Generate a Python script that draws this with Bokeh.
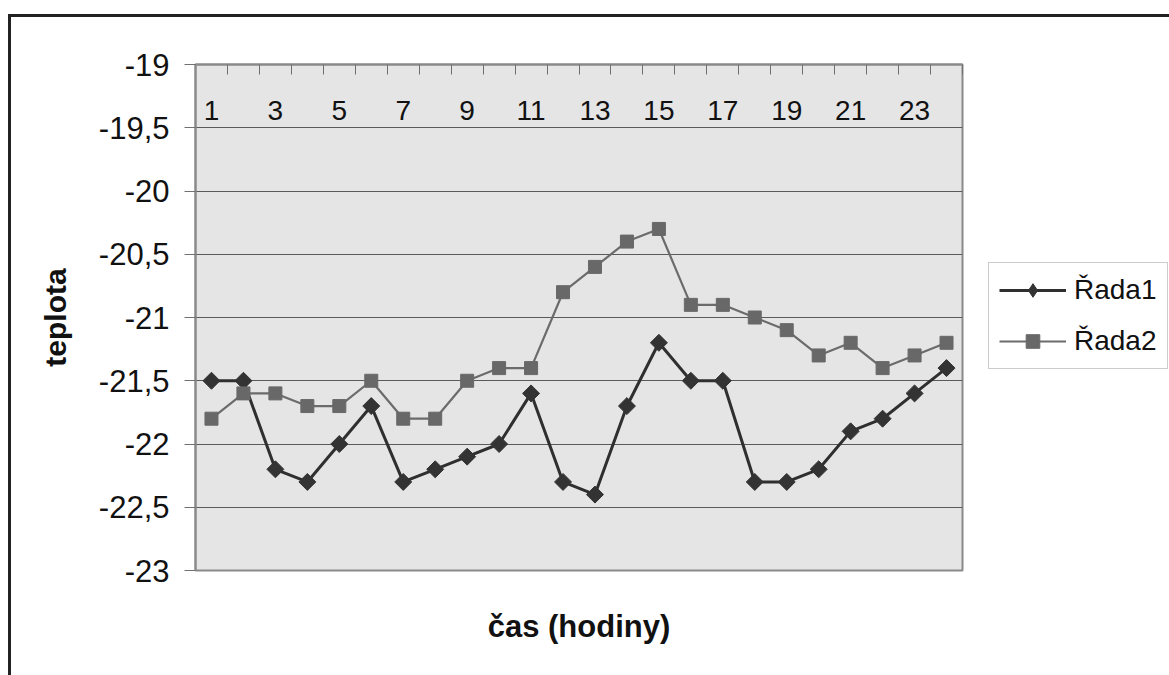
import math
from bokeh.plotting import figure
from bokeh.layouts import row
from bokeh.models import (Range1d, FixedTicker, LinearAxis, CustomJSTickFormatter,
                          Legend, LegendItem, ColumnDataSource, InlineStyleSheet)
from bokeh.core.properties import value
from bokeh.embed import file_html
from bokeh.resources import INLINE

# ---- data ----
hours = list(range(1, 25))
rada1 = [-21.5, -21.5, -22.2, -22.3, -22.0, -21.7, -22.3, -22.2, -22.1, -22.0, -21.6, -22.3,
         -22.4, -21.7, -21.2, -21.5, -21.5, -22.3, -22.3, -22.2, -21.9, -21.8, -21.6, -21.4]
rada2 = [-21.8, -21.6, -21.6, -21.7, -21.7, -21.5, -21.8, -21.8, -21.5, -21.4, -21.4, -20.8,
         -20.6, -20.4, -20.3, -20.9, -20.9, -21.0, -21.1, -21.3, -21.2, -21.4, -21.3, -21.2]
x_label_hours = hours[::2]
x_tick_labels = [str(h) for h in x_label_hours]
y_ticks = [-23, -22.5, -22, -21.5, -21, -20.5, -20, -19.5, -19]
series_names = ["Řada1", "Řada2"]
y_title = "teplota"
x_title = "čas (hodiny)"

FONT = "Liberation Sans"
C1 = "#333333"
C2 = "#686868"
L1 = "#2f2f2f"
L2 = "#6b6b6b"

p = figure(width=975, height=675, output_backend="svg", toolbar_location=None,
           x_range=Range1d(0.5, 24.5), y_range=Range1d(-23, -19),
           min_border_left=195, min_border_right=13, min_border_top=64, min_border_bottom=105,
           background_fill_color="#e5e5e5", border_fill_color="white")

p.outline_line_color = "#8a8a8a"
p.outline_line_width = 2

# y axis
ya = p.yaxis[0]
ya.ticker = FixedTicker(ticks=y_ticks)
ya.formatter = CustomJSTickFormatter(code="return tick.toString().replace('.', ',');")
ya.major_tick_out = 11
ya.major_tick_in = 0
ya.minor_tick_line_color = None
ya.major_tick_line_color = "#707070"
ya.axis_line_color = "#8a8a8a"
ya.axis_line_width = 2
ya.major_label_text_font = FONT
ya.major_label_text_font_size = "31px"
ya.major_label_text_color = "#111111"
ya.major_label_standoff = 15
ya.axis_label = y_title
ya.axis_label_text_font = FONT
ya.axis_label_text_font_size = "30px"
ya.axis_label_text_font_style = "bold"
ya.axis_label_text_color = "#111111"
ya.axis_label_standoff = 24

# bottom axis only carries the title
xa = p.xaxis[0]
xa.ticker = FixedTicker(ticks=[])
xa.axis_line_color = None
xa.major_tick_line_color = None
xa.minor_tick_line_color = None
xa.major_label_text_color = None
xa.major_label_standoff = 0
xa.axis_label = x_title
xa.axis_label_text_font = FONT
xa.axis_label_text_font_size = "31px"
xa.axis_label_text_font_style = "bold"
xa.axis_label_text_color = "#111111"
xa.axis_label_standoff = 38

# top axis with category boundary ticks
boundaries = [h - 0.5 for h in hours] + [hours[-1] + 0.5]
top = LinearAxis(ticker=FixedTicker(ticks=boundaries), major_tick_in=10, major_tick_out=0,
                 minor_tick_line_color=None, major_tick_line_color="#707070",
                 axis_line_color="#8a8a8a", axis_line_width=2,
                 major_label_text_color=None, major_label_text_font_size="1px",
                 major_label_standoff=0)
p.add_layout(top, "above")

# grid
p.xgrid.grid_line_color = None
p.ygrid.ticker = FixedTicker(ticks=y_ticks)
p.ygrid.grid_line_color = "#5a5a5a"
p.ygrid.grid_line_width = 1.2

# category labels inside the plot near the top
p.text(x=x_label_hours, y=[-19.36] * len(x_label_hours), text=x_tick_labels,
       text_align="center", text_baseline="middle", text_font=value(FONT),
       text_font_size="28px", text_color="#111111")

src = ColumnDataSource(dict(x=hours, r1=rada1, r2=rada2))
p.line("x", "r1", source=src, line_color=L1, line_width=3)
p.scatter("x", "r1", source=src, marker="square", angle=math.pi / 4, size=12,
          fill_color=C1, line_color=C1)
p.line("x", "r2", source=src, line_color=L2, line_width=2.2)
p.scatter("x", "r2", source=src, marker="square", size=13, fill_color=C2, line_color=C2)

# ---- legend panel (separate canvas so that it is not clipped by the plot frame) ----
q = figure(width=194, height=675, output_backend="svg", toolbar_location=None,
           x_range=Range1d(1000, 1001), y_range=Range1d(0, 1),
           x_axis_location=None, y_axis_location=None,
           min_border=0, min_border_left=0, min_border_right=0,
           min_border_top=0, min_border_bottom=0,
           background_fill_color="white", border_fill_color="white")
q.outline_line_color = None
q.grid.grid_line_color = None
ql1 = q.line("x", "r1", source=src, line_color=L1, line_width=3)
qs1 = q.scatter("x", "r1", source=src, marker="diamond", size=12, fill_color=C1, line_color=C1)
ql2 = q.line("x", "r2", source=src, line_color=L2, line_width=2.2)
qs2 = q.scatter("x", "r2", source=src, marker="square", size=13, fill_color=C2, line_color=C2)

legend = Legend(items=[LegendItem(label=series_names[0], renderers=[ql1, qs1]),
                       LegendItem(label=series_names[1], renderers=[ql2, qs2])],
                location=(13, 201), orientation="vertical",
                label_text_font=FONT, label_text_font_size="28px", label_text_color="#111111",
                glyph_width=67, glyph_height=34, label_standoff=8, padding=10, spacing=17,
                margin=0, border_line_color="#9a9a9a", border_line_width=1,
                background_fill_color="white", background_fill_alpha=1)
q.add_layout(legend)

# outer chart frame (left and top edges visible in the picture)
p.stylesheets = [InlineStyleSheet(css="""
:host { position: relative; }
:host::after {
  content: ""; position: absolute; left: 8px; top: 14px; right: 0; bottom: 0;
  border-left: 3px solid #222222; border-top: 3px solid #222222;
  pointer-events: none; z-index: 100;
}
""")]
q.stylesheets = [InlineStyleSheet(css="""
:host { position: relative; }
:host::after {
  content: ""; position: absolute; left: 0; top: 14px; right: 0; bottom: 0;
  border-top: 3px solid #222222;
  pointer-events: none; z-index: 100;
}
""")]

layout = row(p, q, spacing=0)
open("out.html", "w").write(file_html(layout, INLINE))
